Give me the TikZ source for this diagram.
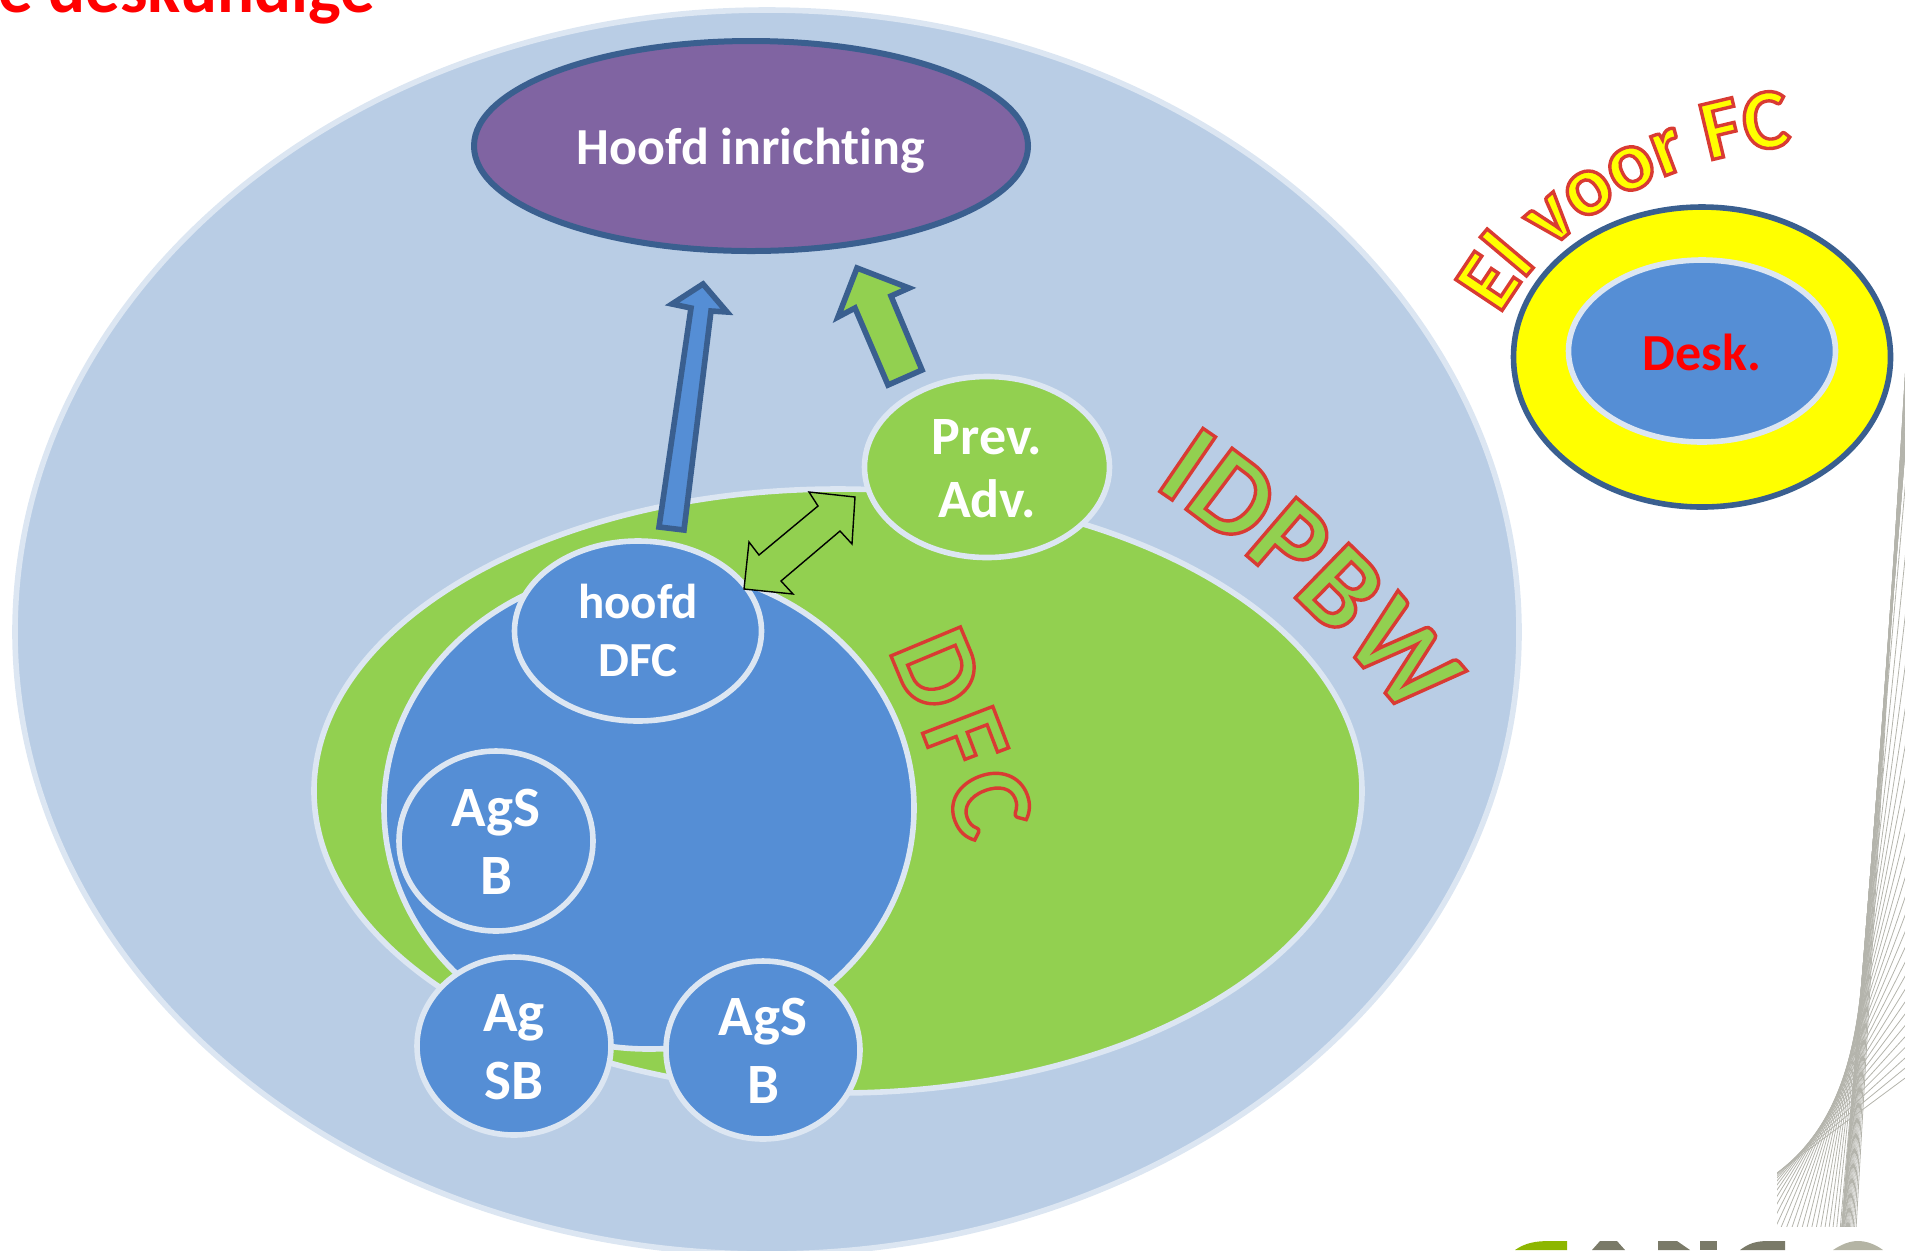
\documentclass[tikz,border=0pt]{standalone}
\usepackage{fontspec}
\setmainfont[Ligatures={NoCommon}]{Carlito}
\usetikzlibrary{decorations.text,shapes.geometric}
\definecolor{outerfill}{HTML}{B9CDE5}
\definecolor{paleline}{HTML}{DCE6F2}
\definecolor{blueFill}{HTML}{558ED5}
\definecolor{greenFill}{HTML}{92D050}
\definecolor{darkline}{HTML}{3A5F8F}
\definecolor{purpleFill}{HTML}{8064A2}
\definecolor{fanline}{HTML}{B4B4AC}
\definecolor{logogreen}{HTML}{8DB600}
\definecolor{logogrey}{HTML}{7A7A68}
\definecolor{logocirc}{HTML}{B4B4A4}
\definecolor{pureyellow}{HTML}{FFFF00}
\newcommand{\wordartA}{\special{pdf:code 2 Tr 1.7 w 0.85 0.23 0.2 RG 0.573 0.816 0.314 rg}}
\newcommand{\wordartB}{\special{pdf:code 2 Tr 1.7 w 0.85 0.23 0.2 RG 1 1 0 rg}}
\newcommand{\twolines}[2][9.4pt]{\raisebox{-#1}[0pt][0pt]{\begin{tabular}{@{}c@{}}#2\end{tabular}}}
\newcommand{\oneline}[2]{\raisebox{-#1}[0pt][0pt]{#2}}
\tikzset{
  oval/.style={shape=ellipse,inner sep=0pt,outer sep=0pt},
  blob/.style={oval,draw=paleline,line width=2.8pt,fill=blueFill},
  lbl/.style={font=\fontsize{24.5}{29}\selectfont\bfseries,text=white},
  lblbig/.style={font=\fontsize{28.5}{34}\selectfont\bfseries,text=white},
  bigarrow/.style={draw=darkline,line width=2.8pt,miter limit=10},
}
\newcommand{\fanlines}[9]{%
  \foreach \t in {0,#9,...,1.001}{
    \pgfmathsetmacro{\u}{1-\t}
    \pgfmathsetmacro{\px}{\u*\u*\u*#1+3*\u*\u*\t*#3+3*\u*\t*\t*#5+\t*\t*\t*#7}
    \pgfmathsetmacro{\py}{\u*\u*\u*#2+3*\u*\u*\t*#4+3*\u*\t*\t*#6+\t*\t*\t*#8}
    \pgfmathsetmacro{\dx}{3*\u*\u*(#3-#1)+6*\u*\t*(#5-#3)+3*\t*\t*(#7-#5)}
    \pgfmathsetmacro{\dy}{3*\u*\u*(#4-#2)+6*\u*\t*(#6-#4)+3*\t*\t*(#8-#6)}
    \pgfmathsetmacro{\n}{veclen(\dx,\dy)}
    \pgfmathsetmacro{\ex}{\dx/\n}
    \pgfmathsetmacro{\ey}{\dy/\n}
    \draw[fanline,line width=0.4pt] ({\px-950*\ex},{\py-950*\ey}) -- ({\px+950*\ex},{\py+950*\ey});
  }}
\begin{document}
\begin{tikzpicture}[x=0.5pt,y=-0.5pt]
\useasboundingbox (0,0) rectangle (1905,1250);
\clip (0,0) rectangle (1905,1250);
% fan of lines
\begin{scope}
\clip (1777,1226) rectangle (1905,300);
\fanlines{1777}{1173}{1835}{1130}{1855}{1060}{1862}{980}{0.04}
\fanlines{1862}{980}{1875}{820}{1890}{640}{1905}{380}{0.05}
\end{scope}
% logo tops
\fill[logogreen] (1515,1250) .. controls (1525,1243) and (1535,1241) .. (1550,1241) -- (1567,1241) -- (1567,1250) -- cycle;
\fill[logogrey] (1592,1250) -- (1600,1241) -- (1617,1241) -- (1625,1250) -- cycle;
\fill[logogrey] (1658,1241) -- (1677,1241) -- (1690,1250) -- (1658,1250) -- cycle;
\fill[logogrey] (1700,1241) -- (1717,1241) -- (1717,1250) -- (1700,1250) -- cycle;
\fill[logogrey] (1740,1250) .. controls (1748,1244) and (1755,1241) .. (1768,1241) -- (1785,1241) -- (1785,1250) -- cycle;
\fill[logocirc] (1833,1250) .. controls (1842,1244) and (1850,1241) .. (1858,1241) .. controls (1866,1241) and (1875,1244) .. (1883,1250) -- cycle;
% heading fragment
\node[anchor=base west,inner sep=0pt,text=red,font=\fontsize{34.5}{38}\selectfont\bfseries] (head) at (-2,12) {e deskundige};
% outer ellipse
\node[oval,draw=paleline,line width=2.8pt,fill=outerfill,minimum width=752pt,minimum height=622pt] (outer) at (767,632) {};
% IDPBW green ellipse
\node[oval,draw=paleline,line width=2.8pt,fill=greenFill,minimum width=524pt,minimum height=302pt] (idpbw) at (838,791) {};
% DFC
\node[blob,minimum width=265pt,minimum height=241pt] (dfc) at (649,808) {};
\node[blob,minimum width=123.5pt,minimum height=90pt,lbl] (hoofddfc) at (638,631) {\twolines[8.6pt]{hoofd\\DFC}};
\node[blob,minimum width=97pt,minimum height=90pt,lblbig] (ags1) at (496,841) {\twolines{AgS\\B}};
\node[blob,minimum width=97pt,minimum height=89pt,lblbig] (agsb) at (514,1046) {\twolines{Ag\\SB}};
\node[blob,minimum width=97pt,minimum height=89pt,lblbig] (ags2) at (763,1050) {\twolines{AgS\\B}};
\node[oval,draw=paleline,line width=2.8pt,fill=greenFill,minimum width=122.5pt,minimum height=90.5pt,font=\fontsize{27}{31.5}\selectfont\bfseries,text=white] (prev) at (987,467) {\twolines[9.55pt]{Prev.\\Adv.}};
% Hoofd inrichting
\node[oval,draw=darkline,line width=3pt,fill=purpleFill,minimum width=277pt,minimum height=105pt,font=\fontsize{26}{29}\selectfont\bfseries,text=white] (hoofd) at (751,146) {\oneline{9.4pt}{Hoofd inrichting}};
% block arrows
\filldraw[bigarrow,fill=blueFill] (659,527) -- (684,530) -- (711,311) -- (727,312) -- (703,284) -- (672,304) -- (691,308) -- cycle;
\filldraw[bigarrow,fill=greenFill] (888,385) -- (922,370) -- (891,296) -- (909,288) -- (857,268) -- (838,317) -- (855,308) -- cycle;
\filldraw[black,fill=greenFill,line width=0.7pt,miter limit=10] (809,492) -- (855,497) -- (852,544) -- (840,531) -- (781,581) -- (793,594) -- (744,589) -- (749,542) -- (759,555) -- (818,506) -- cycle;
% Desk
\node[oval,draw=darkline,line width=2.8pt,fill=pureyellow,minimum width=188.5pt,minimum height=150pt] (el) at (1702,357) {};
\node[oval,draw=paleline,line width=2.8pt,fill=blueFill,minimum width=133.5pt,minimum height=91pt,text=red,font=\fontsize{26}{29}\selectfont\bfseries] (desk) at (1702,351) {\oneline{9.6pt}{Desk.}};
% word art
\coordinate (idA) at (1153,487);
\coordinate (idB) at (1408,722);
\coordinate (dfA) at (888,650);
\coordinate (dfB) at (965,845);
\coordinate (elA) at (1500,315);
\coordinate (elB) at (1788,146);
\path[postaction={decorate,decoration={text along path,text align=fit to path,text={|\fontsize{59}{59}\selectfont\bfseries\wordartA|IDPBW}}}] (idA) .. controls (1240,545) and (1330,620) .. (idB);
\path[postaction={decorate,decoration={text along path,text align=fit to path,text={|\fontsize{58}{58}\selectfont\bfseries\wordartA|DFC}}}] (dfA) .. controls (915,710) and (940,780) .. (dfB);
\path[postaction={decorate,decoration={text along path,text align=fit to path,text={|\fontsize{43}{43}\selectfont\bfseries\wordartB|El voor FC}}}] (elA) .. controls (1552,222) and (1662,158) .. (elB);
\end{tikzpicture}
\end{document}
